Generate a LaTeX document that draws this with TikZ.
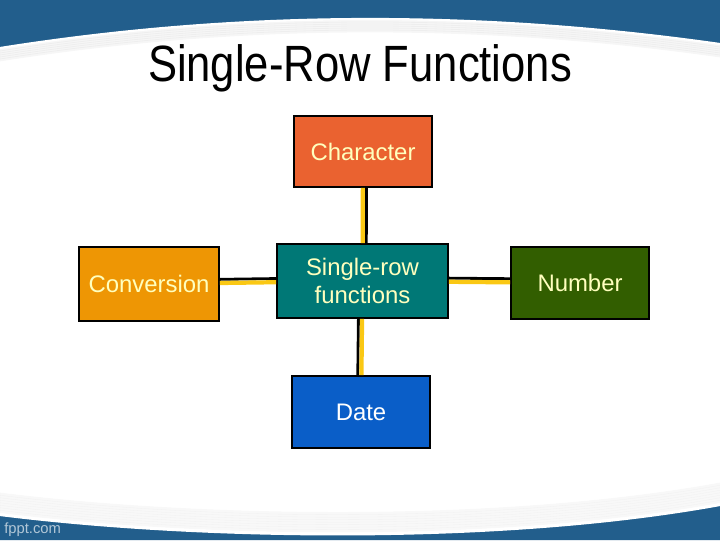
\documentclass[tikz,border=0pt]{standalone}
\usepackage{fontspec}
\setmainfont{Liberation Sans}
\definecolor{srfblue}{RGB}{34,94,140}
\definecolor{srfchar}{RGB}{234,98,48}
\definecolor{srfconv}{RGB}{238,150,4}
\definecolor{srfrow}{RGB}{0,120,118}
\definecolor{srfnum}{RGB}{50,94,0}
\definecolor{srfdate}{RGB}{10,94,200}
\definecolor{srflink}{RGB}{250,200,20}
\definecolor{srftext}{RGB}{255,255,190}
\begin{document}
\begin{tikzpicture}[
  x=0.025cm, y=-0.025cm,
  srfbox/.style = {draw=black, line width=1.2pt, minimum width=3.45cm, minimum height=1.8cm,
    font=\fontsize{17}{20}\selectfont, text=srftext, align=center, inner sep=0pt},
  srfblack/.style = {draw=black, line width=2pt},
  srfyellow/.style = {draw=srflink, line width=3pt},
  srfedge/.style = {line width=1.5pt}
]
  \useasboundingbox (0,0) rectangle (720,540);
  % kopf und fuss
  \draw[white] (0,0) rectangle (720,540);
  \foreach \i in {1,...,6}
    \draw[gray, opacity=0.07, line width=2pt] (0,{48+2*\i}) .. controls (240,{10+2*\i}) and (480,{10+2*\i}) .. (720,{44+2*\i});
  \fill[srfblue] (0,0) -- (720,0) -- (720,44) .. controls (480,10) and (240,10) .. (0,48) -- cycle;
  \draw[white, srfedge] (0,48) .. controls (240,10) and (480,10) .. (720,44);
  \foreach \i in {1,...,8}
    \draw[gray, opacity=0.06, line width=2pt] (0,{514-2.5*\i}) .. controls (200,{539-2.5*\i}) and (500,{544-2.5*\i}) .. (720,{504-2.5*\i});
  \fill[srfblue] (0,515) .. controls (200,540) and (500,545) .. (720,505) -- (720,540) -- (0,540) -- cycle;
  \draw[white, srfedge] (0,515) .. controls (200,540) and (500,545) .. (720,505);
  \node[anchor=west, text=white!65!srfblue, font=\fontsize{10.5}{12}\selectfont, inner sep=0pt] (site) at (4,530) {fppt.com};
  % titel
  \node[font=\fontsize{31}{36}\selectfont] (title) at (360,68) {\scalebox{1}[1.17]{Single-Row Functions}};
  % kaesten
  \node[srfbox, fill=srfchar, minimum width=3.45cm, minimum height=1.78cm] (char) at (363,151.5) {Character};
  \node[srfbox, fill=srfrow, minimum width=4.28cm, minimum height=1.85cm] (row) at (362.5,281) {Single-row\\functions};
  \node[srfbox, fill=srfconv, minimum width=3.5cm, minimum height=1.85cm] (conv) at (149,284) {Conversion};
  \node[srfbox, fill=srfnum, minimum width=3.45cm, minimum height=1.8cm] (num) at (580,283) {Number};
  \node[srfbox, fill=srfdate, text=white, minimum width=3.45cm, minimum height=1.8cm] (date) at (361,412) {Date};
  % verbindungen
  \draw[srfblack, transform canvas={xshift=2.6pt}] (char) -- (row);
  \draw[srfyellow] (char) -- (row);
  \draw[srfblack, transform canvas={xshift=-2.6pt}] (row) -- (date);
  \draw[srfyellow] (row) -- (date);
  \draw[srfblack, transform canvas={yshift=2.6pt}] (conv) -- (row);
  \draw[srfyellow] (conv) -- (row);
  \draw[srfblack, transform canvas={yshift=2.6pt}] (row) -- (num);
  \draw[srfyellow] (row) -- (num);
\end{tikzpicture}
\end{document}
